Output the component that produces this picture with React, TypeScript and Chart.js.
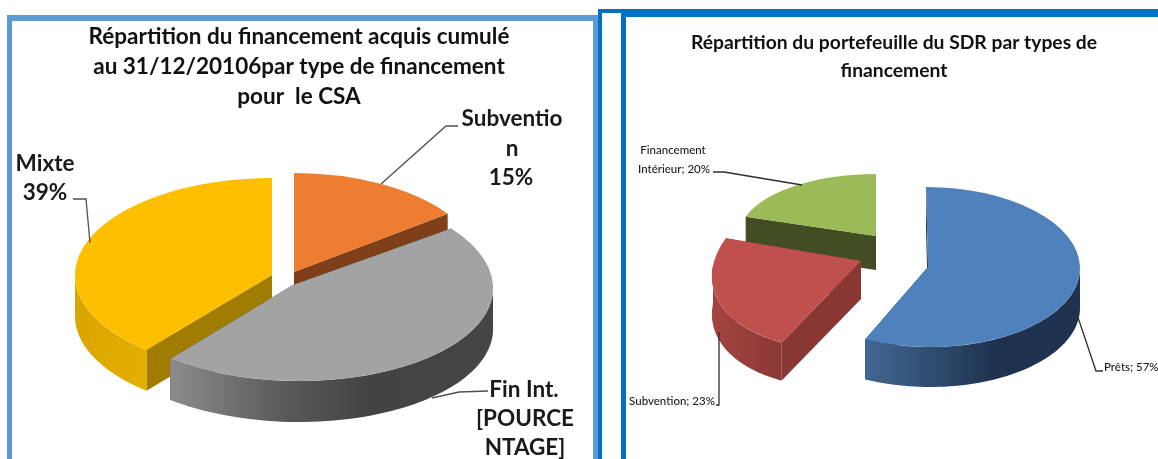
import React, { useEffect, useRef } from "react";
import { Chart, registerables } from "chart.js";

Chart.register(...registerables);

const csaCategories = ["Subvention", "Fin Int.", "Mixte"];
const csaValues = [15, 46, 39];
const csaColors = ["#ED7D31", "#A3A3A3", "#FDBF00"];
const csaTitle = ["Répartition du financement acquis cumulé", "au 31/12/20106par type de financement", "pour  le CSA"];

const sdrCategories = ["Prêts", "Subvention", "Financement Intérieur"];
const sdrValues = [57, 23, 20];
const sdrColors = ["#4F81BD", "#C0504D", "#9BBB59"];
const sdrTitle = ["Répartition du portefeuille du SDR par types de", "financement"];

type Geom = { cx: number; cy: number; rx: number; ry: number; depth: number; shear?: number; tilt?: number; wall: string; stops: [number, string][] };
type Label = { x: number; y: number; text: string; align?: CanvasTextAlign };
type View = {
  originX: number;
  order: number[];
  geom: Geom[];
  labels: Label[];
  labelFont: string;
  leaders: number[][][];
  leaderColor: string;
  leaderWidth: number;
};

const csaView: View = {
  originX: 0,
  order: [0, 2, 1],
  geom: [
    { cx: 294, cy: 272, rx: 190, ry: 99, depth: 40, wall: "#7F4019", stops: [[0, "#7F4019"], [1, "#7F4019"]] },
    { cx: 293, cy: 285, rx: 200, ry: 96, depth: 41, shear: 6, wall: "#404040", stops: [[0, "#8C8C8C"], [0.35, "#5A5A5A"], [0.62, "#434343"], [1, "#454545"]] },
    { cx: 272, cy: 275, rx: 197, ry: 97, depth: 41, wall: "#A07C00", stops: [[0, "#D9A500"], [1, "#E6AF00"]] },
  ],
  labels: [
    { x: 512, y: 119, text: "Subventio" },
    { x: 512, y: 149, text: "n" },
    { x: 511, y: 178, text: "15%" },
    { x: 45, y: 164, text: "Mixte" },
    { x: 45, y: 193, text: "39%" },
    { x: 524, y: 390, text: "Fin Int." },
    { x: 525, y: 419, text: "[POURCE" },
    { x: 525, y: 448, text: "NTAGE]" },
  ],
  labelFont: "700 22.5px Lato",
  leaders: [
    [[458, 126], [446, 126], [381, 184]],
    [[73, 199], [86, 199], [90, 243]],
    [[488, 391], [459, 392], [432, 398]],
  ],
  leaderColor: "#505050",
  leaderWidth: 1.3,
};

const sdrView: View = {
  originX: 598,
  order: [2, 1, 0],
  geom: [
    { cx: 928, cy: 267, rx: 152, ry: 80, depth: 40, shear: 2, wall: "#1F3350", stops: [[0, "#416793"], [0.6, "#1F3350"], [1, "#1F3350"]] },
    { cx: 861, cy: 261, rx: 148, ry: 88, depth: 38, shear: -18, tilt: -4.6, wall: "#893735", stops: [[0, "#A4443F"], [1, "#8A3836"]] },
    { cx: 876, cy: 236, rx: 137, ry: 62, depth: 34, wall: "#434D23", stops: [[0, "#434D23"], [1, "#434D23"]] },
  ],
  labels: [
    { x: 673, y: 150, text: "Financement" },
    { x: 674, y: 169, text: "Intérieur; 20%" },
    { x: 672, y: 401, text: "Subvention; 23%" },
    { x: 1104, y: 367, text: "Prêts; 57%", align: "left" },
  ],
  labelFont: "500 11.5px Lato",
  leaders: [
    [[713, 172], [724, 172], [802, 185]],
    [[716, 405], [719, 405], [719, 332]],
    [[1103, 371], [1096, 371], [1075.5, 310]],
  ],
  leaderColor: "#303030",
  leaderWidth: 1.3,
};

function edge(g: Geom, a: number, drop = 0): [number, number] {
  return [
    g.cx + g.rx * Math.cos(a) + (g.shear || 0) * Math.sin(a),
    g.cy + g.ry * Math.sin(a) + (g.tilt || 0) * Math.cos(a) + drop,
  ];
}

function makePlugin(view: View) {
  return {
    id: "pie3d",
    beforeDatasetDraw(chart: any, args: any) {
      const ctx: CanvasRenderingContext2D = chart.ctx;
      const arcs = args.meta.data;
      ctx.save();
      ctx.translate(-view.originX, 0);
      for (const i of view.order) {
        const arc = arcs[i];
        const g = view.geom[i];
        const a0 = arc.startAngle;
        const a1 = arc.endAngle;
        // radial walls
        ctx.fillStyle = g.wall;
        for (const a of [a0, a1]) {
          const p = edge(g, a);
          const q = edge(g, a, g.depth);
          ctx.beginPath();
          ctx.moveTo(g.cx, g.cy);
          ctx.lineTo(p[0], p[1]);
          ctx.lineTo(q[0], q[1]);
          ctx.lineTo(g.cx, g.cy + g.depth);
          ctx.closePath();
          ctx.fill();
        }
        // rounded outer wall: the part of the rim that faces the viewer
        const from = Math.max(a0, 0);
        const to = Math.min(a1, Math.PI);
        if (to > from) {
          const n = 60;
          const pts: [number, number][] = [];
          for (let k = 0; k <= n; k++) pts.push(edge(g, from + ((to - from) * k) / n));
          const xs = pts.map((p) => p[0]);
          const left = Math.min(...xs);
          const right = Math.max(...xs);
          const grad = ctx.createLinearGradient(left, 0, right, 0);
          for (const [s, c] of g.stops) grad.addColorStop(s, c);
          ctx.fillStyle = grad;
          ctx.beginPath();
          pts.forEach((p, k) => (k ? ctx.lineTo(p[0], p[1]) : ctx.moveTo(p[0], p[1])));
          for (let k = n; k >= 0; k--) ctx.lineTo(pts[k][0], pts[k][1] + g.depth);
          ctx.closePath();
          ctx.fill();
        }
        // top face: the library's own arc element, laid flat
        const R = arc.outerRadius;
        ctx.save();
        ctx.translate(g.cx, g.cy);
        ctx.transform(g.rx / R, (g.tilt || 0) / R, (g.shear || 0) / R, g.ry / R, 0, 0);
        ctx.translate(-arc.x, -arc.y);
        arc.draw(ctx);
        ctx.restore();
      }
      ctx.restore();
      return false;
    },
    afterDraw(chart: any) {
      const ctx: CanvasRenderingContext2D = chart.ctx;
      ctx.save();
      ctx.translate(-view.originX, 0);
      ctx.strokeStyle = view.leaderColor;
      ctx.lineWidth = view.leaderWidth;
      for (const line of view.leaders) {
        ctx.beginPath();
        line.forEach((p, k) => (k ? ctx.lineTo(p[0], p[1]) : ctx.moveTo(p[0], p[1])));
        ctx.stroke();
      }
      ctx.font = view.labelFont;
      ctx.fillStyle = "#1a1a1a";
      ctx.textBaseline = "middle";
      for (const l of view.labels) {
        ctx.textAlign = l.align || "center";
        ctx.fillText(l.text, l.x, l.y);
      }
      ctx.restore();
    },
  };
}

function Pie(props: {
  left: number; width: number; labels: string[]; values: number[]; colors: string[];
  title: string[]; titleFont: any; titleTop: number; view: View;
}) {
  const ref = useRef<HTMLCanvasElement>(null);
  useEffect(() => {
    const chart = new Chart(ref.current!, {
      type: "pie",
      data: {
        labels: props.labels,
        datasets: [{ data: props.values, backgroundColor: props.colors, borderWidth: 0, clip: false } as any],
      },
      options: {
        responsive: false,
        animation: false,
        devicePixelRatio: 1,
        plugins: {
          legend: { display: false },
          tooltip: { enabled: false },
          title: {
            display: true,
            text: props.title,
            color: "#111111",
            font: props.titleFont,
            padding: { top: props.titleTop, bottom: 4 },
          },
        },
      },
      plugins: [makePlugin(props.view)],
    } as any);
    return () => chart.destroy();
  }, []);
  return (
    <canvas
      ref={ref}
      width={props.width}
      height={459}
      style={{ position: "absolute", left: props.left, top: 0, width: props.width, height: 459, filter: "blur(0.4px)" }}
    />
  );
}

const box = (left: number, top: number, width: number, height: number, background: string): React.CSSProperties => ({
  position: "absolute", left, top, width, height, background,
});

export default function App() {
  return (
    <div style={{ position: "fixed", left: 0, top: 0, width: 1158, height: 459, overflow: "hidden", background: "#fff" }}>
      <Pie left={0} width={598} labels={csaCategories} values={csaValues} colors={csaColors} title={csaTitle}
        titleFont={{ family: "Lato", size: 22.5, weight: "700", lineHeight: 1.33 }} titleTop={22} view={csaView} />
      <Pie left={598} width={592} labels={sdrCategories} values={sdrValues} colors={sdrColors} title={sdrTitle}
        titleFont={{ family: "Lato", size: 19.3, weight: "700", lineHeight: 1.44 }} titleTop={29} view={sdrView} />
      <div style={box(7, 15, 591, 6, "#5B9BD5")} />
      <div style={box(7, 15, 5, 444, "#5B9BD5")} />
      <div style={box(593, 15, 5, 444, "#5B9BD5")} />
      <div style={box(598, 9, 560, 4, "#0070C0")} />
      <div style={box(621, 9, 537, 8, "#0070C0")} />
      <div style={box(598, 9, 4, 450, "#0070C0")} />
      <div style={box(621, 9, 5, 450, "#0070C0")} />
    </div>
  );
}
